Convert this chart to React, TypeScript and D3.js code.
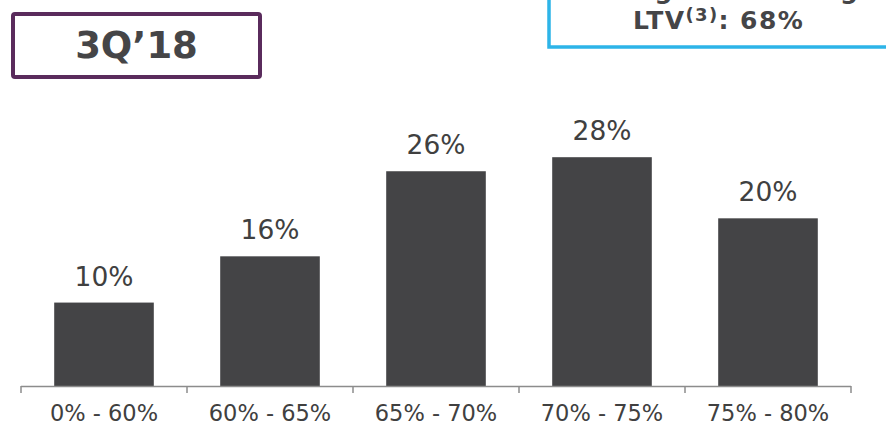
import React from "react";
import * as d3 from "d3";

const categories = ["0% - 60%", "60% - 65%", "65% - 70%", "70% - 75%", "75% - 80%"];
const values = [10.1, 15.7, 26.0, 27.7, 20.3];
const periodLabel = "3Q\u201918";
const topLine = "Weighted Average";
const ltvLabel = "LTV";
const ltvNote = "(3)";
const ltvValue = ": 68%";

const W = 886;
const H = 425;
const FONT = "'DejaVu Sans', Verdana, sans-serif";

export default function App() {
  const x = d3.scaleBand<string>().domain(categories).range([21, 851]).paddingInner(0.4).paddingOuter(0.2);
  const y = d3.scaleLinear().domain([0, 100]).range([386, 386 - 826]);
  const ticks = [...categories.map((c) => (x(c) as number) - x.step() * 0.2), 851];

  return (
    <svg width={W} height={H} style={{ position: "absolute", left: 0, top: 0 }} fontFamily={FONT}>
      <rect x={0} y={0} width={W} height={H} fill="#ffffff" />
      {/* period box */}
      <rect x={13} y={14} width={247} height={63} rx={2} fill="#fff" stroke="#5A2B5C" strokeWidth={4} />
      <text x={136.5} y={58} textAnchor="middle" fontSize={37} fontWeight="bold" fill="#454547">
        {periodLabel}
      </text>
      {/* LTV box */}
      <rect x={549} y={-40} width={360} height={87} fill="#fff" stroke="#2DB4E8" strokeWidth={3.5} />
      <text x={738} y={-1} textAnchor="middle" fontSize={25} fontWeight="bold" fill="#454547" letterSpacing={1.2}>
        {topLine}
      </text>
      <text x={633} y={29} fontSize={25} fontWeight="bold" fill="#454547" letterSpacing={1.4}>
        {ltvLabel}
        <tspan fontSize={18} dy={-8}>{ltvNote}</tspan>
        <tspan dy={8}>{ltvValue}</tspan>
      </text>
      {/* bars */}
      {categories.map((c, i) => (
        <g key={c}>
          <rect
            x={x(c) as number}
            y={y(values[i])}
            width={x.bandwidth()}
            height={y(0) - y(values[i])}
            fill="#444446"
          />
          <text
            x={(x(c) as number) + x.bandwidth() / 2}
            y={y(values[i]) - 17}
            textAnchor="middle"
            fontSize={26.5}
            fill="#404040"
          >
            {`${Math.round(values[i])}%`}
          </text>
          <text
            x={(x(c) as number) + x.bandwidth() / 2}
            y={421}
            textAnchor="middle"
            fontSize={22.5}
            fill="#404040"
          >
            {c}
          </text>
        </g>
      ))}
      {/* axis */}
      <line x1={21} x2={851} y1={386.5} y2={386.5} stroke="#8c8c8c" strokeWidth={1.5} />
      {ticks.map((t, i) => (
        <line key={i} x1={t} x2={t} y1={386} y2={393} stroke="#8c8c8c" strokeWidth={1.5} />
      ))}
    </svg>
  );
}
